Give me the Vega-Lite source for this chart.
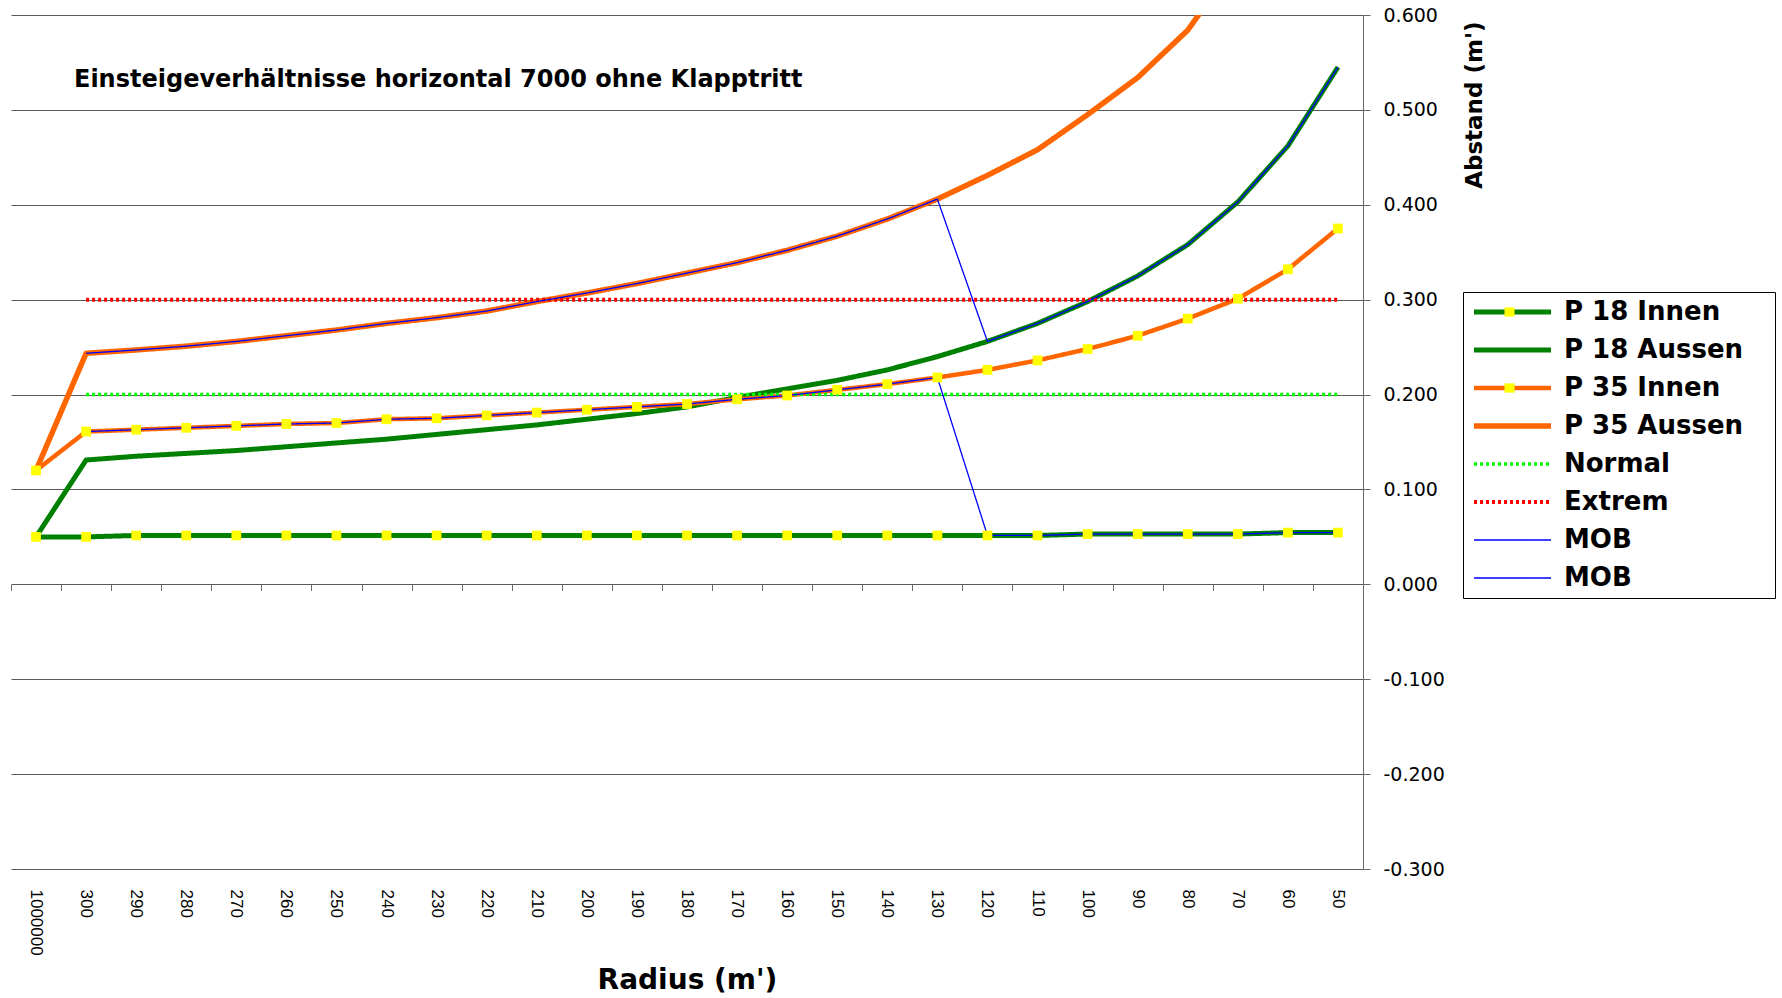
{
"$schema": "https://vega.github.io/schema/vega-lite/v6.json",
"width": 1352, "height": 854,
"autosize": {"type": "none"},
"padding": {"left": 11, "top": 15, "right": 419, "bottom": 129},
"background": "white",
"title": {"text": "Einsteigeverhältnisse horizontal 7000 ohne Klapptritt", "anchor": "start", "frame": "group", "orient": "top", "offset": -105, "baseline": "alphabetic", "dx": 63, "font": "DejaVu Sans", "fontSize": 24, "fontWeight": "bold", "color": "black"},
"config": {"view": {"stroke": null}},
"data": {"values": [
{"r":"1000000","s":"P 18 Innen","v":0.050},{"r":"300","s":"P 18 Innen","v":0.050},{"r":"290","s":"P 18 Innen","v":0.0515},{"r":"280","s":"P 18 Innen","v":0.0515},{"r":"270","s":"P 18 Innen","v":0.0515},{"r":"260","s":"P 18 Innen","v":0.0515},{"r":"250","s":"P 18 Innen","v":0.0515},{"r":"240","s":"P 18 Innen","v":0.0515},{"r":"230","s":"P 18 Innen","v":0.0515},{"r":"220","s":"P 18 Innen","v":0.0515},{"r":"210","s":"P 18 Innen","v":0.0515},{"r":"200","s":"P 18 Innen","v":0.0515},{"r":"190","s":"P 18 Innen","v":0.0515},{"r":"180","s":"P 18 Innen","v":0.0515},{"r":"170","s":"P 18 Innen","v":0.0515},{"r":"160","s":"P 18 Innen","v":0.0515},{"r":"150","s":"P 18 Innen","v":0.0515},{"r":"140","s":"P 18 Innen","v":0.0515},{"r":"130","s":"P 18 Innen","v":0.0515},{"r":"120","s":"P 18 Innen","v":0.0515},{"r":"110","s":"P 18 Innen","v":0.0515},{"r":"100","s":"P 18 Innen","v":0.053},{"r":"90","s":"P 18 Innen","v":0.053},{"r":"80","s":"P 18 Innen","v":0.053},{"r":"70","s":"P 18 Innen","v":0.053},{"r":"60","s":"P 18 Innen","v":0.0545},{"r":"50","s":"P 18 Innen","v":0.0545},
{"r":"1000000","s":"P 18 Aussen","v":0.050},{"r":"300","s":"P 18 Aussen","v":0.131},{"r":"290","s":"P 18 Aussen","v":0.135},{"r":"280","s":"P 18 Aussen","v":0.138},{"r":"270","s":"P 18 Aussen","v":0.141},{"r":"260","s":"P 18 Aussen","v":0.145},{"r":"250","s":"P 18 Aussen","v":0.149},{"r":"240","s":"P 18 Aussen","v":0.153},{"r":"230","s":"P 18 Aussen","v":0.158},{"r":"220","s":"P 18 Aussen","v":0.163},{"r":"210","s":"P 18 Aussen","v":0.168},{"r":"200","s":"P 18 Aussen","v":0.174},{"r":"190","s":"P 18 Aussen","v":0.180},{"r":"180","s":"P 18 Aussen","v":0.187},{"r":"170","s":"P 18 Aussen","v":0.197},{"r":"160","s":"P 18 Aussen","v":0.206},{"r":"150","s":"P 18 Aussen","v":0.215},{"r":"140","s":"P 18 Aussen","v":0.226},{"r":"130","s":"P 18 Aussen","v":0.240},{"r":"120","s":"P 18 Aussen","v":0.256},{"r":"110","s":"P 18 Aussen","v":0.275},{"r":"100","s":"P 18 Aussen","v":0.298},{"r":"90","s":"P 18 Aussen","v":0.325},{"r":"80","s":"P 18 Aussen","v":0.358},{"r":"70","s":"P 18 Aussen","v":0.403},{"r":"60","s":"P 18 Aussen","v":0.462},{"r":"50","s":"P 18 Aussen","v":0.545},
{"r":"1000000","s":"P 35 Innen","v":0.120},{"r":"300","s":"P 35 Innen","v":0.161},{"r":"290","s":"P 35 Innen","v":0.163},{"r":"280","s":"P 35 Innen","v":0.165},{"r":"270","s":"P 35 Innen","v":0.167},{"r":"260","s":"P 35 Innen","v":0.169},{"r":"250","s":"P 35 Innen","v":0.170},{"r":"240","s":"P 35 Innen","v":0.174},{"r":"230","s":"P 35 Innen","v":0.175},{"r":"220","s":"P 35 Innen","v":0.178},{"r":"210","s":"P 35 Innen","v":0.181},{"r":"200","s":"P 35 Innen","v":0.184},{"r":"190","s":"P 35 Innen","v":0.187},{"r":"180","s":"P 35 Innen","v":0.190},{"r":"170","s":"P 35 Innen","v":0.195},{"r":"160","s":"P 35 Innen","v":0.199},{"r":"150","s":"P 35 Innen","v":0.205},{"r":"140","s":"P 35 Innen","v":0.211},{"r":"130","s":"P 35 Innen","v":0.218},{"r":"120","s":"P 35 Innen","v":0.226},{"r":"110","s":"P 35 Innen","v":0.236},{"r":"100","s":"P 35 Innen","v":0.248},{"r":"90","s":"P 35 Innen","v":0.262},{"r":"80","s":"P 35 Innen","v":0.280},{"r":"70","s":"P 35 Innen","v":0.301},{"r":"60","s":"P 35 Innen","v":0.332},{"r":"50","s":"P 35 Innen","v":0.375},
{"r":"1000000","s":"P 35 Aussen","v":0.120},{"r":"300","s":"P 35 Aussen","v":0.2435},{"r":"290","s":"P 35 Aussen","v":0.247},{"r":"280","s":"P 35 Aussen","v":0.251},{"r":"270","s":"P 35 Aussen","v":0.256},{"r":"260","s":"P 35 Aussen","v":0.262},{"r":"250","s":"P 35 Aussen","v":0.268},{"r":"240","s":"P 35 Aussen","v":0.275},{"r":"230","s":"P 35 Aussen","v":0.281},{"r":"220","s":"P 35 Aussen","v":0.288},{"r":"210","s":"P 35 Aussen","v":0.298},{"r":"200","s":"P 35 Aussen","v":0.307},{"r":"190","s":"P 35 Aussen","v":0.317},{"r":"180","s":"P 35 Aussen","v":0.328},{"r":"170","s":"P 35 Aussen","v":0.339},{"r":"160","s":"P 35 Aussen","v":0.352},{"r":"150","s":"P 35 Aussen","v":0.367},{"r":"140","s":"P 35 Aussen","v":0.385},{"r":"130","s":"P 35 Aussen","v":0.406},{"r":"120","s":"P 35 Aussen","v":0.431},{"r":"110","s":"P 35 Aussen","v":0.458},{"r":"100","s":"P 35 Aussen","v":0.495},{"r":"90","s":"P 35 Aussen","v":0.534},{"r":"80","s":"P 35 Aussen","v":0.584},{"r":"70","s":"P 35 Aussen","v":0.658},{"r":"60","s":"P 35 Aussen","v":0.76},{"r":"50","s":"P 35 Aussen","v":0.9},
{"r":"300","s":"Normal","v":0.2},{"r":"290","s":"Normal","v":0.2},{"r":"280","s":"Normal","v":0.2},{"r":"270","s":"Normal","v":0.2},{"r":"260","s":"Normal","v":0.2},{"r":"250","s":"Normal","v":0.2},{"r":"240","s":"Normal","v":0.2},{"r":"230","s":"Normal","v":0.2},{"r":"220","s":"Normal","v":0.2},{"r":"210","s":"Normal","v":0.2},{"r":"200","s":"Normal","v":0.2},{"r":"190","s":"Normal","v":0.2},{"r":"180","s":"Normal","v":0.2},{"r":"170","s":"Normal","v":0.2},{"r":"160","s":"Normal","v":0.2},{"r":"150","s":"Normal","v":0.2},{"r":"140","s":"Normal","v":0.2},{"r":"130","s":"Normal","v":0.2},{"r":"120","s":"Normal","v":0.2},{"r":"110","s":"Normal","v":0.2},{"r":"100","s":"Normal","v":0.2},{"r":"90","s":"Normal","v":0.2},{"r":"80","s":"Normal","v":0.2},{"r":"70","s":"Normal","v":0.2},{"r":"60","s":"Normal","v":0.2},{"r":"50","s":"Normal","v":0.2},
{"r":"300","s":"Extrem","v":0.3},{"r":"290","s":"Extrem","v":0.3},{"r":"280","s":"Extrem","v":0.3},{"r":"270","s":"Extrem","v":0.3},{"r":"260","s":"Extrem","v":0.3},{"r":"250","s":"Extrem","v":0.3},{"r":"240","s":"Extrem","v":0.3},{"r":"230","s":"Extrem","v":0.3},{"r":"220","s":"Extrem","v":0.3},{"r":"210","s":"Extrem","v":0.3},{"r":"200","s":"Extrem","v":0.3},{"r":"190","s":"Extrem","v":0.3},{"r":"180","s":"Extrem","v":0.3},{"r":"170","s":"Extrem","v":0.3},{"r":"160","s":"Extrem","v":0.3},{"r":"150","s":"Extrem","v":0.3},{"r":"140","s":"Extrem","v":0.3},{"r":"130","s":"Extrem","v":0.3},{"r":"120","s":"Extrem","v":0.3},{"r":"110","s":"Extrem","v":0.3},{"r":"100","s":"Extrem","v":0.3},{"r":"90","s":"Extrem","v":0.3},{"r":"80","s":"Extrem","v":0.3},{"r":"70","s":"Extrem","v":0.3},{"r":"60","s":"Extrem","v":0.3},{"r":"50","s":"Extrem","v":0.3},
{"r":"300","s":"MOB 1","v":0.2435},{"r":"290","s":"MOB 1","v":0.247},{"r":"280","s":"MOB 1","v":0.251},{"r":"270","s":"MOB 1","v":0.256},{"r":"260","s":"MOB 1","v":0.262},{"r":"250","s":"MOB 1","v":0.268},{"r":"240","s":"MOB 1","v":0.275},{"r":"230","s":"MOB 1","v":0.281},{"r":"220","s":"MOB 1","v":0.288},{"r":"210","s":"MOB 1","v":0.298},{"r":"200","s":"MOB 1","v":0.307},{"r":"190","s":"MOB 1","v":0.317},{"r":"180","s":"MOB 1","v":0.328},{"r":"170","s":"MOB 1","v":0.339},{"r":"160","s":"MOB 1","v":0.352},{"r":"150","s":"MOB 1","v":0.367},{"r":"140","s":"MOB 1","v":0.385},{"r":"130","s":"MOB 1","v":0.406},{"r":"120","s":"MOB 1","v":0.256},{"r":"110","s":"MOB 1","v":0.275},{"r":"100","s":"MOB 1","v":0.298},{"r":"90","s":"MOB 1","v":0.325},{"r":"80","s":"MOB 1","v":0.358},{"r":"70","s":"MOB 1","v":0.403},{"r":"60","s":"MOB 1","v":0.462},{"r":"50","s":"MOB 1","v":0.545},
{"r":"300","s":"MOB 2","v":0.161},{"r":"290","s":"MOB 2","v":0.163},{"r":"280","s":"MOB 2","v":0.165},{"r":"270","s":"MOB 2","v":0.167},{"r":"260","s":"MOB 2","v":0.169},{"r":"250","s":"MOB 2","v":0.170},{"r":"240","s":"MOB 2","v":0.174},{"r":"230","s":"MOB 2","v":0.175},{"r":"220","s":"MOB 2","v":0.178},{"r":"210","s":"MOB 2","v":0.181},{"r":"200","s":"MOB 2","v":0.184},{"r":"190","s":"MOB 2","v":0.187},{"r":"180","s":"MOB 2","v":0.190},{"r":"170","s":"MOB 2","v":0.195},{"r":"160","s":"MOB 2","v":0.199},{"r":"150","s":"MOB 2","v":0.205},{"r":"140","s":"MOB 2","v":0.211},{"r":"130","s":"MOB 2","v":0.218},{"r":"120","s":"MOB 2","v":0.0515},{"r":"110","s":"MOB 2","v":0.0515},{"r":"100","s":"MOB 2","v":0.053},{"r":"90","s":"MOB 2","v":0.053},{"r":"80","s":"MOB 2","v":0.053},{"r":"70","s":"MOB 2","v":0.053},{"r":"60","s":"MOB 2","v":0.0545},{"r":"50","s":"MOB 2","v":0.0545}
]},
"layer": [
{
"mark": {"type": "line", "clip": true, "strokeJoin": "round"},
"encoding": {
"x": {"field": "r", "type": "nominal", "bandPosition": 0.5,
 "scale": {"type": "band", "paddingInner": 0, "paddingOuter": 0, "domain": ["1000000","300","290","280","270","260","250","240","230","220","210","200","190","180","170","160","150","140","130","120","110","100","90","80","70","60","50"]},
 "axis": {"orient": "bottom", "labelAngle": 90, "labelFont": "Liberation Sans", "labelFontSize": 17, "labelColor": "black", "labelPadding": 20, "labelOverlap": false, "ticks": false, "domain": false, "grid": false,
  "title": "Radius (m')", "titleFont": "DejaVu Sans", "titleFontSize": 28, "titleFontWeight": "bold", "titleColor": "black", "titlePadding": 11}},
"y": {"field": "v", "type": "quantitative",
 "scale": {"domain": [-0.3, 0.6], "nice": false, "zero": false},
 "axis": {"orient": "right", "values": [-0.3,-0.2,-0.1,0,0.1,0.2,0.3,0.4,0.5,0.6], "labelExpr": "replace(format(datum.value, '.3f'), '\u2212', '-')",
  "grid": true, "gridColor": "#5a5a5a", "gridWidth": 1, "domain": true, "domainColor": "#666666", "tickColor": "#666666", "tickSize": 7,
  "labelPadding": 13, "labelFont": "DejaVu Sans", "labelFontSize": 19, "labelColor": "black",
  "title": "Abstand (m')", "titleFont": "DejaVu Sans", "titleFontSize": 23, "titleFontWeight": "bold", "titleColor": "black",
  "titleAngle": 270, "titleAlign": "right", "titleBaseline": "top", "titleX": 100, "titleY": 6}},
"color": {"field": "s", "type": "nominal",
 "scale": {"domain": ["P 18 Innen","P 18 Aussen","P 35 Innen","P 35 Aussen","Normal","Extrem","MOB 1","MOB 2"], "range": ["#008000","#008000","#ff6600","#ff6600","#00ff00","#ff0000","#0000ff","#0000ff"]},
 "legend": {"orient": "none", "legendX": 1452, "legendY": 277, "title": null, "symbolType": "stroke", "symbolSize": 5929, "clipHeight": 38, "rowPadding": 0, "padding": 1, "symbolOffset": 7, "labelOffset": 10,
  "labelFont": "DejaVu Sans", "labelFontWeight": "bold", "labelFontSize": 26, "labelColor": "black", "labelLimit": 0,
  "labelExpr": "datum.label == 'MOB 1' || datum.label == 'MOB 2' ? 'MOB' : datum.label",
  "fillColor": "white", "zindex": 0}},
"strokeDash": {"field": "s", "type": "nominal",
 "scale": {"domain": ["P 18 Innen","P 18 Aussen","P 35 Innen","P 35 Aussen","Normal","Extrem","MOB 1","MOB 2"], "range": [[1,0],[1,0],[1,0],[1,0],[3,3],[3,3],[1,0],[1,0]]}},
"strokeWidth": {"field": "s", "type": "nominal",
 "scale": {"type": "ordinal", "domain": ["P 18 Innen","P 18 Aussen","P 35 Innen","P 35 Aussen","Normal","Extrem","MOB 1","MOB 2"], "range": [5,5,4.5,5.5,3.5,4,1.3,1.3]}}
}
},
{
"transform": [{"filter": "datum.s == 'P 18 Innen' || datum.s == 'P 35 Innen'"}],
"mark": {"type": "square", "size": 95, "filled": true, "opacity": 1},
"encoding": {
"x": {"field": "r", "type": "nominal", "bandPosition": 0.5,
 "axis": {"orient": "bottom", "offset": -284.6, "labels": false, "title": null, "domain": false, "grid": false, "ticks": true, "tickSize": 6, "tickColor": "#666666", "tickBand": "extent"}},
"y": {"field": "v", "type": "quantitative"},
"fill": {"field": "s", "type": "nominal",
 "scale": {"domain": ["P 18 Innen","P 18 Aussen","P 35 Innen","P 35 Aussen","Normal","Extrem","MOB a","MOB b"], "range": ["#ffff00","rgba(0,0,0,0)","#ffff00","rgba(0,0,0,0)","rgba(0,0,0,0)","rgba(0,0,0,0)","rgba(0,0,0,0)","rgba(0,0,0,0)"]},
 "legend": {"orient": "none", "legendX": 1452, "legendY": 277, "title": null, "symbolType": "M-0.13,-0.12H0.13V0.12H-0.13Z", "symbolSize": 5929, "symbolStrokeWidth": 0, "symbolOpacity": 1, "clipHeight": 38, "rowPadding": 0, "padding": 1, "symbolOffset": 7, "labelOffset": 226,
  "labelFont": "DejaVu Sans", "labelFontWeight": "bold", "labelFontSize": 26, "labelColor": "rgba(0,0,0,0)", "labelLimit": 0, "labelExpr": "''",
  "strokeColor": "black", "zindex": 1}}
}
}
],
"resolve": {"axis": {"x": "independent"}}
}
